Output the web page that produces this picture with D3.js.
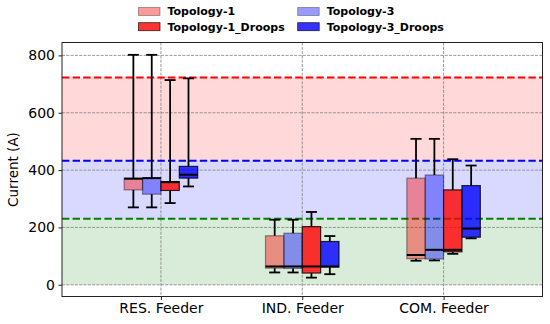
<!DOCTYPE html>
<html><head><meta charset="utf-8">
<script src="https://cdn.jsdelivr.net/npm/d3@7"></script>
<style>body{margin:0;background:#fff}svg{display:block;font-family:"DejaVu Sans",sans-serif}</style>
</head><body><svg id="c" width="550" height="324"></svg>
<script>
const categories = ["RES. Feeder", "IND. Feeder", "COM. Feeder"];
const seriesNames = ["Topology-1", "Topology-3", "Topology-1_Droops", "Topology-3_Droops"];
const seriesColors = ["rgba(255,0,0,0.4)", "rgba(0,0,255,0.4)", "rgba(255,0,0,0.8)", "rgba(0,0,255,0.8)"];
const seriesEdges = ["rgba(0,0,0,0.4)", "rgba(0,0,0,0.4)", "rgba(0,0,0,0.8)", "rgba(0,0,0,0.8)"];
// per series, per category
const whiskerLow = [[270, 43, 84], [270, 43, 85], [285, 25, 108], [343, 37, 162]];
const q1 = [[331, 58, 91], [316, 57, 90], [329, 41, 115], [372, 62, 166]];
const median = [[370, 64, 104], [372, 64, 122], [358, 64, 122], [384, 64, 196]];
const q3 = [[372, 171, 372], [373, 180, 383], [360, 203, 331], [413, 151, 346]];
const whiskerHigh = [[802, 227, 509], [802, 227, 509], [714, 254, 438], [720, 170, 416]];
const yTicks = [0, 200, 400, 600, 800];
const bands = [[0, 230, "rgba(0,128,0,0.15)"], [230, 433, "rgba(0,0,255,0.15)"], [433, 723, "rgba(255,0,0,0.15)"]];
const thresholds = [[230, "#008000"], [433, "#0000ff"], [723, "#ff0000"]];
const offsets = [-0.195, -0.065, 0.065, 0.195];
const boxW = 0.13;

const svg = d3.select("#c");
const L = 62, R = 542.5, T = 42.5, B = 296.5;
const x = d3.scaleLinear().domain([-0.7, 2.7]).range([L, R]);
const y = d3.scaleLinear().domain([-40.8, 845]).range([B, T]);

const g = svg.append("g");
// bands
g.selectAll("rect.band").data(bands).join("rect")
  .attr("x", L).attr("width", R - L)
  .attr("y", d => y(d[1])).attr("height", d => y(d[0]) - y(d[1]))
  .attr("fill", d => d[2]);
// grid
g.selectAll("line.gy").data(yTicks).join("line")
  .attr("x1", L).attr("x2", R).attr("y1", d => y(d)).attr("y2", d => y(d))
  .attr("stroke", "#808080").attr("stroke-width", 0.8).attr("stroke-dasharray", "3,1.3");
g.selectAll("line.gx").data(categories).join("line")
  .attr("y1", T).attr("y2", B).attr("x1", (d, i) => x(i)).attr("x2", (d, i) => x(i))
  .attr("stroke", "#808080").attr("stroke-width", 0.8).attr("stroke-dasharray", "3,1.3");
// thresholds
g.selectAll("line.th").data(thresholds).join("line")
  .attr("x1", L).attr("x2", R).attr("y1", d => y(d[0])).attr("y2", d => y(d[0]))
  .attr("stroke", d => d[1]).attr("stroke-width", 2).attr("stroke-dasharray", "7.4,3.2");

// boxes
seriesNames.forEach((s, si) => {
  categories.forEach((c, ci) => {
    const cx = ci + offsets[si];
    const x0 = x(cx - boxW / 2), x1 = x(cx + boxW / 2);
    const cw = (x1 - x0) * 0.3;
    const xc = x(cx);
    const bg = g.append("g");
    // whiskers
    bg.append("line").attr("x1", xc).attr("x2", xc).attr("y1", y(q3[si][ci])).attr("y2", y(whiskerHigh[si][ci]))
      .attr("stroke", "#000").attr("stroke-width", 1.8);
    bg.append("line").attr("x1", xc).attr("x2", xc).attr("y1", y(q1[si][ci])).attr("y2", y(whiskerLow[si][ci]))
      .attr("stroke", "#000").attr("stroke-width", 1.8);
    [whiskerHigh[si][ci], whiskerLow[si][ci]].forEach(v => {
      bg.append("line").attr("x1", xc - cw).attr("x2", xc + cw).attr("y1", y(v)).attr("y2", y(v))
        .attr("stroke", "#000").attr("stroke-width", 1.8);
    });
    bg.append("rect").attr("x", x0).attr("width", x1 - x0)
      .attr("y", y(q3[si][ci])).attr("height", y(q1[si][ci]) - y(q3[si][ci]))
      .attr("fill", seriesColors[si]).attr("stroke", seriesEdges[si]).attr("stroke-width", 1.2);
    bg.append("line").attr("x1", x0).attr("x2", x1).attr("y1", y(median[si][ci])).attr("y2", y(median[si][ci]))
      .attr("stroke", "#000").attr("stroke-width", 2);
  });
});

// frame
svg.append("rect").attr("x", L).attr("y", T).attr("width", R - L).attr("height", B - T)
  .attr("fill", "none").attr("stroke", "#222").attr("stroke-width", 1);

// axes
const yAxis = d3.axisLeft(y).tickValues(yTicks).tickSize(3.5).tickPadding(3.5);
const ya = svg.append("g").attr("transform", `translate(${L},0)`).call(yAxis);
ya.select(".domain").remove();
ya.selectAll("text").attr("font-size", 14).attr("fill", "#000").attr("font-family", "DejaVu Sans");
ya.selectAll("line").attr("stroke", "#222");
const xAxis = d3.axisBottom(x).tickValues([0, 1, 2]).tickFormat(i => categories[i]).tickSize(3.5).tickPadding(3.5);
const xa = svg.append("g").attr("transform", `translate(0,${B})`).call(xAxis);
xa.select(".domain").remove();
xa.selectAll("text").attr("font-size", 14).attr("fill", "#000").attr("font-family", "DejaVu Sans");
xa.selectAll("line").attr("stroke", "#222");

svg.append("text").attr("transform", `translate(18,${(T + B) / 2}) rotate(-90)`)
  .attr("text-anchor", "middle").attr("font-size", 13.5).attr("fill", "#000").text("Current (A)");

// legend
const legendPos = [[138.5, 11.5], [297.7, 11.5], [138.5, 26.7], [297.7, 26.7]];
const legendOrder = [0, 1, 2, 3];
legendOrder.forEach((si, k) => {
  const [lx, ly] = legendPos[k];
  svg.append("rect").attr("x", lx).attr("y", ly - 4).attr("width", 21.5).attr("height", 8)
    .attr("fill", seriesColors[si]).attr("stroke", seriesEdges[si]).attr("stroke-width", 0.8);
  svg.append("text").attr("x", lx + 29).attr("y", ly).attr("dy", "0.35em")
    .attr("font-size", 11).attr("font-weight", "bold").attr("font-family", "DejaVu Sans")
    .attr("fill", "#000").text(seriesNames[si]);
});
</script></body></html>
